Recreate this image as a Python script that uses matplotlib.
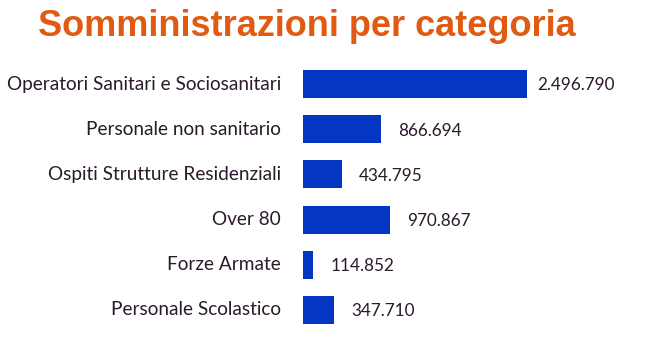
import matplotlib
matplotlib.use("Agg")
import matplotlib.pyplot as plt

categories = ["Operatori Sanitari e Sociosanitari", "Personale non sanitario",
              "Ospiti Strutture Residenziali", "Over 80", "Forze Armate",
              "Personale Scolastico"]
values = [2496790, 866694, 434795, 970867, 114852, 347710]
value_labels = ["2.496.790", "866.694", "434.795", "970.867", "114.852", "347.710"]
title = "Somministrazioni per categoria"

W, H = 651, 354
fig = plt.figure(figsize=(W / 100, H / 100), dpi=100)
fig.patch.set_facecolor("white")

left = 303 / W
right_px = 651
ax = fig.add_axes([left, 1 - 332.5 / H, (right_px - 303) / W, 271 / H])
ypos = list(range(len(categories)))
bar_color = "#0436C4"
text_color = "#2a1a2c"
ax.barh(ypos, values, height=0.62, color=bar_color)
ax.set_ylim(len(categories) - 0.5, -0.5)
ax.set_xlim(0, 348 / 224 * values[0])
ax.axis("off")

for y, v, lab in zip(ypos, values, value_labels):
    ax.annotate(lab, xy=(v, y), xytext=(35.3, -1), textcoords="offset points",
                ha="center", va="center", fontsize=12.3, color=text_color,
                family="Lato")

for y, cat in zip(ypos, categories):
    ax.annotate(cat, xy=(0, y), xytext=(-16, 0), textcoords="offset points",
                ha="right", va="center", fontsize=13.7, color=text_color,
                family="Lato")

fig.text(306.5 / W, 1 - 27 / H, title, ha="center", va="center",
         fontsize=26, fontweight="bold", color="#E05A12",
         family="Liberation Sans")

fig.savefig("out.png", dpi=100, facecolor="white")
